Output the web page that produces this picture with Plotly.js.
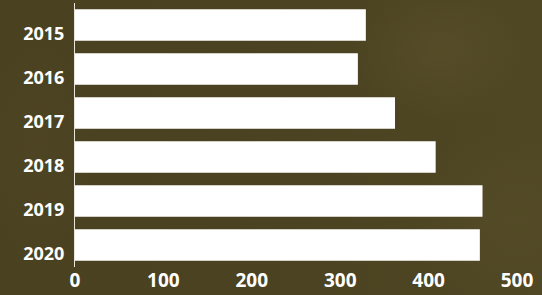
<!DOCTYPE html>
<html><head><meta charset="utf-8">
<script src="https://cdn.plot.ly/plotly-3.0.1.min.js"></script>
<style>
html,body{margin:0;padding:0;width:542px;height:295px;overflow:hidden;}
body{background:
 radial-gradient(ellipse 90px 70px at 440px 50px, rgba(100,90,50,0.35), rgba(0,0,0,0)),
 radial-gradient(ellipse 100px 90px at 510px 220px, rgba(95,85,45,0.3), rgba(0,0,0,0)),
 radial-gradient(ellipse 60px 120px at 35px 150px, rgba(90,80,45,0.2), rgba(0,0,0,0)),
 linear-gradient(90deg, #4a4121 0%, #4b4221 50%, #4f4624 100%);}
#chart{width:542px;height:295px;}
</style></head>
<body><div id="chart"></div>
<script>
const years = ['2015','2016','2017','2018','2019','2020'];
const values = [329, 320, 362, 408, 461, 458];
const xTicks = [0, 100, 200, 300, 400, 500];

Plotly.newPlot('chart', [{
  type: 'bar', orientation: 'h',
  y: years, x: values,
  marker: {color: '#ffffff', line: {width: 0}},
  hoverinfo: 'none'
}], {
  width: 542, height: 295,
  margin: {l: 75, r: 25, t: 3, b: 28, pad: 0},
  paper_bgcolor: 'rgba(0,0,0,0)', plot_bgcolor: 'rgba(0,0,0,0)',
  bargap: 0.28,
  showlegend: false,
  font: {family: 'Open Sans', color: '#ffffff'},
  xaxis: {range: [0, 500], tickvals: xTicks, showgrid: false, zeroline: false,
    showline: false, ticks: '', tickfont: {family: 'Open Sans', size: 19, color: '#ffffff', weight: 700}, fixedrange: true},
  yaxis: {autorange: 'reversed', type: 'category', showgrid: false, zeroline: false,
    showline: true, linecolor: '#e8e6dc', linewidth: 1, ticks: '', ticklabelstandoff: 6,
    ticklabelshift: -9,
    tickfont: {family: 'Open Sans', size: 18, color: '#ffffff', weight: 700}, fixedrange: true}
}, {staticPlot: true, displayModeBar: false});
</script></body></html>
